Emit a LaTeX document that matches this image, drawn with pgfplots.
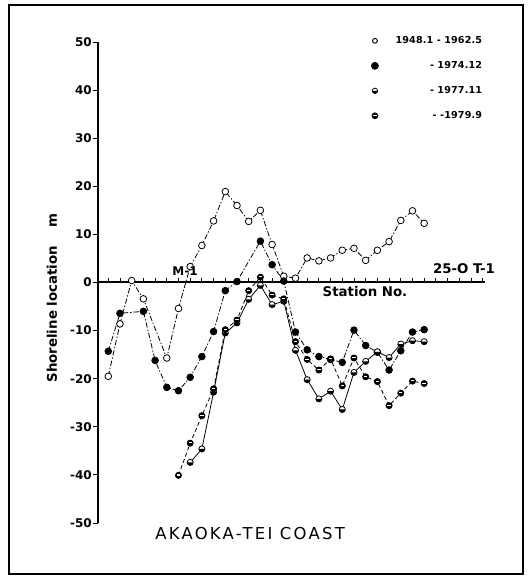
\documentclass[border=0pt]{standalone}
\usepackage{pgfplots}
\pgfplotsset{compat=1.18}
\usepackage{fontspec}
\setmainfont{DejaVu Sans}
\setsansfont{DejaVu Sans}
\newfontfamily\akafont[LetterSpace=14]{DejaVu Sans}
\newfontfamily\legfont[LetterSpace=1.5]{DejaVu Sans}

\pgfdeclareplotmark{halfw}{%
  \pgfsetfillcolor{white}%
  \pgfpathcircle{\pgfpointorigin}{\pgfplotmarksize}\pgfusepathqfill
  \pgfsetfillcolor{black}%
  \pgfpathmoveto{\pgfqpoint{-\pgfplotmarksize}{0pt}}%
  \pgfpatharc{180}{360}{\the\pgfplotmarksize}%
  \pgfpathclose\pgfusepathqfill
  \pgfpathcircle{\pgfpointorigin}{\pgfplotmarksize}\pgfusepathqstroke
}
\pgfdeclareplotmark{stripe}{%
  \pgfsetfillcolor{black}%
  \pgfpathcircle{\pgfpointorigin}{\pgfplotmarksize}\pgfusepathqfillstroke
  \pgfsetfillcolor{white}%
  \pgfpathrectangle{\pgfpoint{-0.55\pgfplotmarksize}{-0.05\pgfplotmarksize}}{\pgfpoint{1.1\pgfplotmarksize}{0.35\pgfplotmarksize}}%
  \pgfusepathqfill
}

\pgfplotstableread{
x y
0 -19.5
1 -8.6
2 0.4
3 -3.4
5 -15.7
6 -5.4
7 3.3
8 7.7
9 12.8
10 18.9
11 16.0
12 12.7
13 15.0
14 7.9
15 1.3
16 0.9
17 5.1
18 4.5
19 5.1
20 6.7
21 7.1
22 4.6
23 6.7
24 8.5
25 12.9
26 14.9
27 12.3
}\tblA
\pgfplotstableread{
x y
0 -14.3
1 -6.4
3 -6.0
4 -16.2
5 -21.8
6 -22.5
7 -19.7
8 -15.4
9 -10.2
10 -1.7
11 0.2
13 8.6
14 3.7
15 0.3
16 -10.3
17 -14.0
18 -15.4
19 -16.0
20 -16.6
21 -9.9
22 -13.1
23 -14.5
24 -18.2
25 -14.2
26 -10.3
27 -9.8
}\tblB
\pgfplotstableread{
x y
7 -37.4
8 -34.6
9 -22.8
10 -10.5
11 -8.4
12 -3.5
13 -0.6
14 -4.6
15 -3.9
16 -14.1
17 -20.2
18 -24.2
19 -22.6
20 -26.4
21 -18.7
22 -16.4
23 -14.4
24 -15.6
25 -12.8
26 -12.1
27 -12.3
}\tblC
\pgfplotstableread{
x y
6 -40.1
7 -33.4
8 -27.7
9 -22.1
10 -9.8
11 -7.8
12 -1.7
13 1.1
14 -2.6
15 -3.4
16 -12.3
17 -16.0
18 -18.2
19 -15.9
20 -21.5
21 -15.7
22 -19.6
23 -20.6
24 -25.6
25 -23.0
26 -20.5
27 -21.0
}\tblD

\begin{document}
\begin{tikzpicture}[x=0.75pt,y=0.75pt]
\begin{scope}[shift={(-98,-54)}]
\path[use as bounding box] (0,0) rectangle (528,577);
\draw[line width=0.9pt] (9,3) rectangle (523,572);
\end{scope}
\begin{axis}[
  at={(0,0)}, anchor=south west, scale only axis,
  width=290.25pt, height=360.75pt,
  xmin=-0.88, xmax=32.2, ymin=-50, ymax=50,
  axis x line=middle, axis y line=left,
  axis line style={-},
  x axis line style={line width=1.5pt},
  y axis line style={line width=1.1pt},
  xtick={0,...,32}, xticklabels={},
  ytick={-50,-40,...,50},
  xtick align=inside,
  ytick align=outside,
  major tick length=3.5pt,
  tick style={black, line width=0.7pt},
  /pgf/number format/assume math mode=true,
  yticklabel style={font=\bfseries\fontsize{9}{10}\selectfont, inner sep=1pt},
  clip=false,
  legend cell align=right,
  legend style={draw=none, fill=none, inner sep=0pt, at={(1.0,1.018)}, anchor=north east,
    font=\legfont\bfseries\fontsize{7.2}{8}\selectfont, row sep=7.9pt},
  legend image code/.code={\path (-1pt,0pt) (13.3pt,0pt); \draw[#1] plot coordinates {(0pt,0pt)};},
]
\addplot[black, line width=0.6pt, dash pattern=on 4pt off 1.5pt on 1pt off 1.5pt,
  mark=*, mark size=2.5pt, mark options={solid, fill=white, line width=0.6pt}, forget plot] table {\tblA};
\addplot[black, line width=0.6pt, dash pattern=on 4pt off 1.5pt on 1pt off 1.5pt,
  mark=*, mark size=2.5pt, mark options={solid, fill=black}, forget plot] table {\tblB};
\addplot[black, line width=0.6pt, solid,
  mark=halfw, mark size=2.3pt, mark options={solid, line width=0.6pt}, forget plot] table {\tblC};
\addplot[black, line width=0.6pt, dash pattern=on 3pt off 2pt,
  mark=stripe, mark size=2.3pt, mark options={solid, line width=0.6pt}, forget plot] table {\tblD};
\addlegendimage{only marks, mark=*, mark size=1.8pt, mark options={fill=white, line width=0.7pt}}
\addlegendentry{1948.1 - 1962.5}
\addlegendimage{only marks, mark=*, mark size=2.7pt, mark options={fill=black}}
\addlegendentry{- 1974.12}
\addlegendimage{only marks, mark=halfw, mark size=2.0pt, mark options={line width=0.6pt}}
\addlegendentry{- 1977.11}
\addlegendimage{only marks, mark=stripe, mark size=2.2pt, mark options={line width=0.6pt}}
\addlegendentry{- -1979.9}
\end{axis}
\begin{scope}[shift={(-98,-54)}]
\node[font=\bfseries\fontsize{9}{10}\selectfont] at (185,306) {M-1};
\node[font=\bfseries\fontsize{10}{11}\selectfont] at (464,308) {25-O T-1};
\node[font=\bfseries\fontsize{10}{11}\selectfont] at (365,285) {Station No.};
\node[font=\bfseries\fontsize{10}{11}\selectfont, rotate=90] at (52,279) {Shoreline location\hspace{14pt}m};
\node[font=\akafont\fontsize{12.3}{13}\selectfont, anchor=base west, inner sep=0pt] at (155,38) {AKAOKA-TEI COAST};
\end{scope}
\end{tikzpicture}
\end{document}
